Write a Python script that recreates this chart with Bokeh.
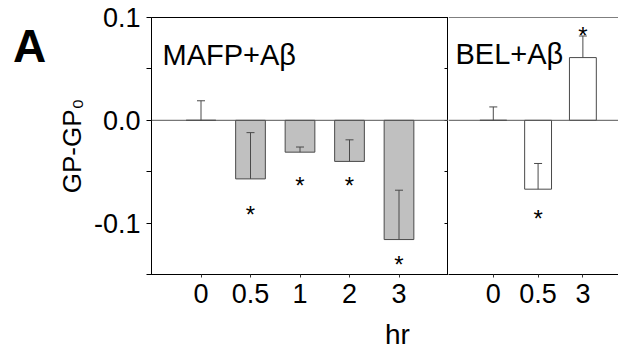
from bokeh.plotting import figure
from bokeh.layouts import row, column
from bokeh.models import (Range1d, FixedTicker, LinearAxis, Label, Span, Div,
                          ColumnDataSource, Whisker, TeeHead, PrintfTickFormatter)
from bokeh.core.properties import value
from bokeh.embed import file_html
from bokeh.resources import INLINE

# ---- data ----
mafp_hours = ["0", "0.5", "1", "2", "3"]
mafp_dgp = [0.0, -0.057, -0.031, -0.040, -0.116]
mafp_err = [0.019, 0.045, 0.005, 0.021, 0.048]
mafp_star_y = [None, -0.086, -0.058, -0.058, -0.134]

bel_hours = ["0", "0.5", "3"]
bel_dgp = [0.0, -0.067, 0.061]
bel_err = [0.013, 0.025, 0.021]
bel_star_y = [None, -0.090, 0.088]

y_major = [-0.1, 0.0, 0.1]
y_minor = [-0.15, -0.05, 0.05]

FONT = "Liberation Sans"
EDGE = "#4a4a4a"
FIG_H = 322

y_rng = Range1d(-0.15, 0.1)


def panel(p, hours, vals, errs, star_y, fill):
    idx = list(range(len(hours)))
    src = ColumnDataSource(dict(
        x=idx, top=vals,
        lower=vals,
        upper=[v + e for v, e in zip(vals, errs)],
    ))
    p.vbar(x="x", top="top", bottom=0, width=0.6, source=src,
           fill_color=fill, line_color=EDGE, line_width=1)
    p.add_layout(Whisker(source=src, base="x", lower="lower", upper="upper",
                         dimension="height", line_color=EDGE, line_width=1,
                         level="overlay", lower_head=None,
                         upper_head=TeeHead(size=8, line_color=EDGE, line_width=1)))
    sx = [i for i, s in zip(idx, star_y) if s is not None]
    sy = [s for s in star_y if s is not None]
    p.text(x=sx, y=sy, text=["*"] * len(sx), text_font=value(FONT),
           text_font_size="24px", text_align="center", text_baseline="middle",
           y_offset=6, text_color="black")
    p.add_layout(Span(location=0, dimension="width", line_color="#555555", line_width=1))
    p.xgrid.visible = False
    p.ygrid.visible = False
    xa = p.xaxis[0]
    xa.ticker = FixedTicker(ticks=idx)
    xa.major_label_overrides = {i: h for i, h in zip(idx, hours)}
    xa.major_tick_out = 3
    xa.major_tick_in = 0
    xa.minor_tick_line_color = None
    xa.major_label_text_font = FONT
    xa.major_label_text_font_size = "27px"
    xa.major_label_text_color = "black"
    xa.major_label_standoff = 6
    xa.axis_line_color = "black"
    xa.major_tick_line_color = "#333333"


left = figure(width=398, height=FIG_H, x_range=Range1d(-1, 5), y_range=y_rng,
              output_backend="svg", toolbar_location=None,
              min_border_left=101, min_border_right=0,
              min_border_top=17, min_border_bottom=FIG_H - 274)
left.outline_line_color = "black"
left.outline_line_alpha = 1
panel(left, mafp_hours, mafp_dgp, mafp_err, mafp_star_y, "#c0c0c0")

ya = left.yaxis[0]
ya.ticker = FixedTicker(ticks=y_major, minor_ticks=y_minor)
ya.formatter = PrintfTickFormatter(format="%.1f")
ya.major_tick_out = 5
ya.major_tick_in = 0
ya.minor_tick_out = 5
ya.minor_tick_in = 0
ya.minor_tick_line_color = "black"
ya.major_label_text_font = FONT
ya.major_label_text_font_size = "27px"
ya.major_label_text_color = "black"
ya.major_label_standoff = 6
ya.axis_label = "GP-GP\u2080"
ya.axis_label_text_font = FONT
ya.axis_label_text_font_size = "26px"
ya.axis_label_text_font_style = "normal"
ya.axis_label_text_color = "black"
ya.axis_label_standoff = 4

# divider ticks (pointing into the left panel), no labels
ra = LinearAxis(ticker=FixedTicker(ticks=[], minor_ticks=y_major + y_minor),
                major_tick_in=4, major_tick_out=0, minor_tick_in=4, minor_tick_out=0,
                major_label_standoff=0, minor_tick_line_color="black")
left.add_layout(ra, "right")

left.add_layout(Label(x=-0.778, y=0.0632, text="MAFP+A\u03b2", text_font=FONT,
                      text_font_size="29px", text_align="left",
                      text_baseline="alphabetic", text_color="black"))

right = figure(width=170, height=FIG_H, x_range=Range1d(-1, 2.795), y_range=y_rng,
               output_backend="svg", toolbar_location=None, y_axis_location=None,
               min_border_left=0, min_border_right=0,
               min_border_top=17, min_border_bottom=FIG_H - 274)
right.outline_line_color = None
panel(right, bel_hours, bel_dgp, bel_err, bel_star_y, "white")
right.add_layout(Span(location=0.1, dimension="width", line_color="black", line_width=1))
right.add_layout(Label(x=-0.844, y=0.0642, text="BEL+A\u03b2", text_font=FONT,
                       text_font_size="29px", text_align="left",
                       text_baseline="alphabetic", text_color="black"))

panel_letter = Div(
    text=("<div style=\"font-family:'Liberation Sans',Arial,sans-serif;"
          "font-size:46px;font-weight:bold;line-height:46px;color:black;"
          "padding-left:13px;padding-top:23px;margin:0;\">A</div>"),
    width=50, height=FIG_H, margin=(0, 0, 0, 0))

x_title = Div(
    text=("<div style=\"font-family:'Liberation Sans',Arial,sans-serif;"
          "font-size:28px;line-height:26px;color:black;"
          "padding-left:385px;padding-top:0px;margin:0;white-space:nowrap;\">hr</div>"),
    width=618, height=350 - FIG_H, margin=(0, 0, 0, 0))

layout = column(row(panel_letter, left, right, spacing=0), x_title, spacing=0)
open("out.html", "w").write(file_html(layout, INLINE))
